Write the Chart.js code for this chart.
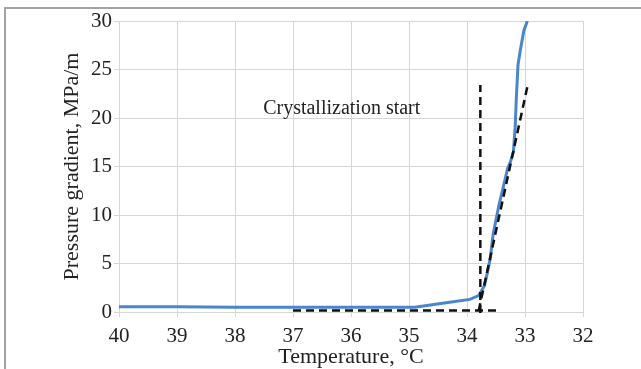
<!DOCTYPE html>
<html>
<head>
<meta charset="utf-8">
<script src="https://cdn.jsdelivr.net/npm/chart.js@4/dist/chart.umd.min.js"></script>
<style>
  html, body { margin: 0; padding: 0; background: #fff; }
  #wrap { position: relative; width: 641px; height: 369px; overflow: hidden; }
  #frame { position: absolute; left: 4px; top: 7px; width: 700px; height: 400px;
           border-left: 2px solid #a3a3a3; border-top: 2px solid #a3a3a3; pointer-events: none; }
</style>
</head>
<body>
<div id="wrap">
  <canvas id="chart" width="641" height="369"></canvas>
  <div id="frame"></div>
</div>
<script>
// 温度 (°C) 与压力梯度 (MPa/m)
const temps = [40, 39, 38, 37, 36, 35.2, 34.9, 34.6, 34.3, 33.95, 33.8, 33.75, 33.7, 33.65, 33.6,
               33.55, 33.5, 33.45, 33.35, 33.3, 33.25, 33.2, 33.17, 33.15, 33.12, 33.08, 33.02, 32.96];
const gradient = [0.55, 0.55, 0.5, 0.5, 0.5, 0.5, 0.5, 0.75, 1.0, 1.3, 1.7, 2.2, 2.7, 4.0, 5.5,
                  8.0, 9.5, 11.0, 13.5, 14.8, 15.5, 16.5, 19.0, 22.0, 25.5, 27.0, 29.0, 30.0];

// 虚线辅助线
const baseLineT = [37, 33.43];
const baseLineV = [0.15, 0.15];
const startLineT = [33.77, 33.77];
const startLineV = [-0.1, 23.4];
const slopeLineT = [33.8, 32.96];
const slopeLineV = [0.1, 23.2];

const xTicks = [40, 39, 38, 37, 36, 35, 34, 33, 32];
const annotation = { text: 'Crystallization start', t: 36.16, v: 21.0 };

const toPoints = (xs, ys) => xs.map((x, i) => ({ x, y: ys[i] }));
const serif = "'Liberation Serif', 'DejaVu Serif', serif";

const dashed = (xs, ys) => ({
    data: toPoints(xs, ys),
    showLine: true,
    borderColor: '#111',
    borderWidth: 2.5,
    borderDash: [8, 5],
    pointRadius: 0,
    clip: false
});

// 标注文字
const labelPlugin = {
    id: 'labelPlugin',
    afterDatasetsDraw(chart) {
        const { ctx, scales: { x, y } } = chart;
        ctx.save();
        ctx.font = "20px " + serif;
        ctx.fillStyle = '#222';
        ctx.textAlign = 'center';
        ctx.textBaseline = 'middle';
        ctx.fillText(annotation.text, x.getPixelForValue(annotation.t), y.getPixelForValue(annotation.v));
        ctx.restore();
    }
};

new Chart(document.getElementById('chart').getContext('2d'), {
    type: 'scatter',
    data: {
        datasets: [
            dashed(startLineT, startLineV),
            dashed(slopeLineT, slopeLineV),
            dashed(baseLineT, baseLineV),
            {
                data: toPoints(temps, gradient),
                showLine: true,
                borderColor: '#4a86cb',
                borderWidth: 3,
                pointRadius: 0,
                tension: 0
            }
        ]
    },
    options: {
        responsive: false,
        animation: false,
        events: [],
        layout: { padding: { left: 0, right: 58, top: 21, bottom: 0 } },
        plugins: { legend: { display: false }, tooltip: { enabled: false } },
        scales: {
            x: {
                type: 'linear',
                reverse: true,
                min: 32,
                max: 40,
                afterBuildTicks: s => { s.ticks = xTicks.map(v => ({ value: v })); },
                afterFit: s => { s.height = 57; },
                grid: { color: '#d6d6d6', lineWidth: 1, tickLength: 5 },
                border: { color: '#d6d6d6' },
                ticks: { color: '#222', font: { family: serif, size: 21 }, padding: 7, maxRotation: 0 },
                title: { display: true, text: 'Temperature, °C', color: '#222',
                         font: { family: serif, size: 22 }, padding: { top: 0, bottom: -1 } }
            },
            y: {
                min: 0,
                max: 30,
                afterFit: s => { s.width = 119; },
                grid: { color: '#d6d6d6', lineWidth: 1, tickLength: 5 },
                border: { color: '#d6d6d6' },
                ticks: { stepSize: 5, color: '#222', font: { family: serif, size: 21 }, padding: 2 },
                title: { display: true, text: 'Pressure gradient, MPa/m', color: '#222',
                         font: { family: serif, size: 22 }, padding: { top: 59, bottom: 0 } }
            }
        }
    },
    plugins: [labelPlugin]
});
</script>
</body>
</html>
